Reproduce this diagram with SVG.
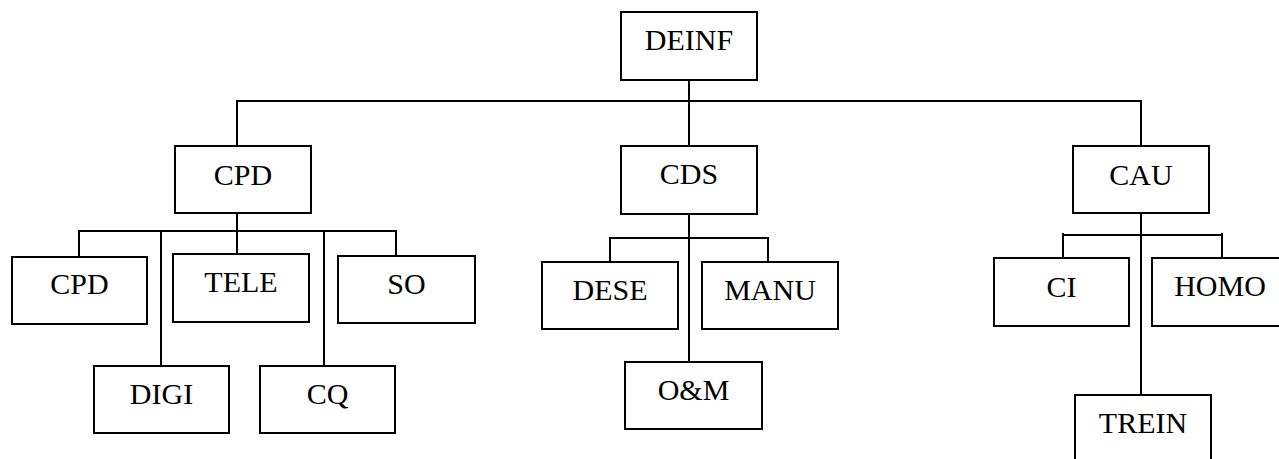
<svg xmlns="http://www.w3.org/2000/svg" width="1279" height="459" viewBox="0 0 1279 459">
<style>
.box{fill:#fff;stroke:#000;stroke-width:2}
.lbl{font-family:"Liberation Serif","Times New Roman",serif;font-size:30px;fill:#000;text-anchor:middle}
.con{fill:none;stroke:#000;stroke-width:2}
</style>
<rect width="1279" height="459" fill="#fff"/>
<g id="connectors" class="con">
<path d="M689 80V362"/>
<path d="M237 146V101H1141V146"/>
<path d="M237 213V254"/>
<path d="M79 257V231H396V256"/>
<path d="M161 231V366"/>
<path d="M324 231V366"/>
<path d="M610 262V238H768V262"/>
<path d="M1141 213V395"/>
<path d="M1063 258V233M1063 235H1222M1222 233V258"/>
</g>
<g id="DEINF"><rect class="box" x="621" y="12" width="136" height="68"/><text class="lbl" x="689" y="50">DEINF</text></g>
<g id="CPD"><rect class="box" x="175" y="146" width="136" height="67"/><text class="lbl" x="243" y="185">CPD</text></g>
<g id="CDS"><rect class="box" x="621" y="146" width="136" height="68"/><text class="lbl" x="689" y="184">CDS</text></g>
<g id="CAU"><rect class="box" x="1073" y="146" width="136" height="67"/><text class="lbl" x="1141" y="185">CAU</text></g>
<g id="CPD2"><rect class="box" x="12" y="257" width="135" height="67"/><text class="lbl" x="79.5" y="294">CPD</text></g>
<g id="TELE"><rect class="box" x="173" y="254" width="136" height="68"/><text class="lbl" x="241" y="292">TELE</text></g>
<g id="SO"><rect class="box" x="338" y="256" width="137" height="67"/><text class="lbl" x="406.5" y="294">SO</text></g>
<g id="DIGI"><rect class="box" x="94" y="366" width="135" height="67"/><text class="lbl" x="161.5" y="404">DIGI</text></g>
<g id="CQ"><rect class="box" x="260" y="366" width="135" height="67"/><text class="lbl" x="327.5" y="404">CQ</text></g>
<g id="DESE"><rect class="box" x="542" y="262" width="136" height="67"/><text class="lbl" x="610" y="300">DESE</text></g>
<g id="MANU"><rect class="box" x="702" y="262" width="136" height="67"/><text class="lbl" x="770" y="300">MANU</text></g>
<g id="OM"><rect class="box" x="625" y="362" width="137" height="67"/><text class="lbl" x="693.5" y="400">O&amp;M</text></g>
<g id="CI"><rect class="box" x="994" y="258" width="135" height="68"/><text class="lbl" x="1061.5" y="297">CI</text></g>
<g id="HOMO"><rect class="box" x="1152" y="258" width="136" height="68"/><text class="lbl" x="1220" y="296">HOMO</text></g>
<g id="TREIN"><rect class="box" x="1075" y="395" width="136" height="80"/><text class="lbl" x="1143" y="433">TREIN</text></g>
</svg>
